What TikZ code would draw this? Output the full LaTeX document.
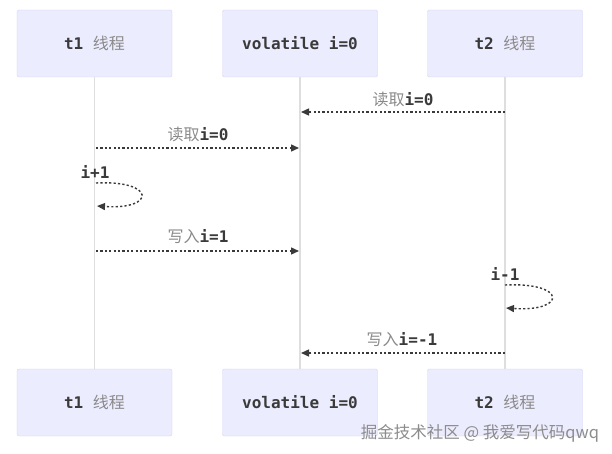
\documentclass[tikz,border=0pt]{standalone}
\usepackage{fontspec}
\setmonofont{DejaVu Sans Mono}
\newfontfamily\cjk{Noto Sans CJK SC}
\usetikzlibrary{arrows.meta}
\definecolor{actorfill}{HTML}{ECECFF}
\definecolor{actorline}{HTML}{D3D3F3}
\definecolor{lifegray}{HTML}{DEDEDE}
\definecolor{msgdark}{HTML}{3A3A3A}
\definecolor{cjkgray}{HTML}{8A8A8A}
\newcommand{\zh}[1]{{\cjk\mdseries\color{cjkgray}#1}}

\begin{document}
\begin{tikzpicture}[
                x=1pt, y=-1pt,
                actor/.style={draw=actorline, fill=actorfill, rounded corners=2pt, minimum width=155pt, minimum height=67pt, font=\ttfamily\bfseries\fontsize{16}{19}\selectfont, text=msgdark},
                life/.style={lifegray, line width=1.3pt},
                msg/.style={msgdark, line width=1.4pt, dash pattern=on 2.2pt off 2.2pt, -{Triangle[length=8pt,width=7pt]}},
                lbl/.style={font=\ttfamily\bfseries\fontsize{16}{19}\selectfont, text=msgdark, inner sep=0pt}
            ]
                \useasboundingbox (0,0) rectangle (612,454);

                \node[actor] (t1top) at (94.5,43.5) {t1 \zh{线程}};
                \node[actor] (vtop) at (300,43.5) {volatile i=0};
                \node[actor] (t2top) at (505,43.5) {t2 \zh{线程}};
                \node[actor] (t1bot) at (94.5,402.5) {t1 \zh{线程}};
                \node[actor] (vbot) at (300,402.5) {volatile i=0};
                \node[actor] (t2bot) at (505,402.5) {t2 \zh{线程}};

                \draw[life] (t1top) -- (t1bot);
                \draw[life] (vtop) -- (vbot);
                \draw[life] (t2top) -- (t2bot);

                \coordinate (r2a) at (505,112);
                \coordinate (r2b) at (301,112);
                \coordinate (r1a) at (96,148);
                \coordinate (r1b) at (299,148);
                \coordinate (inca) at (96,183);
                \coordinate (incb) at (97,206);
                \coordinate (w1a) at (96,251);
                \coordinate (w1b) at (299,251);
                \coordinate (deca) at (505,285);
                \coordinate (decb) at (506,308);
                \coordinate (w2a) at (505,353);
                \coordinate (w2b) at (301,353);

                \draw[msg] (r2a) -- (r2b);
                \draw[msg] (r1a) -- (r1b);
                \draw[msg] (inca) .. controls (156,180) and (156,210) .. (incb);
                \draw[msg] (w1a) -- (w1b);
                \draw[msg] (deca) .. controls (567,282) and (567,312) .. (decb);
                \draw[msg] (w2a) -- (w2b);

                \node[lbl] (r2l) at (403,99) {\zh{读取}i=0};
                \node[lbl] (r1l) at (198,134) {\zh{读取}i=0};
                \node[lbl] (incl) at (95,172) {i+1};
                \node[lbl] (w1l) at (198,237) {\zh{写入}i=1};
                \node[lbl] (decl) at (505,274) {i-1};
                \node[lbl] (w2l) at (402,340) {\zh{写入}i=-1};

                \node[font=\cjk\fontsize{16.5}{19}\selectfont, text=black!45, inner sep=0pt] (mark) at (480,433) {掘金技术社区 @ 我爱写代码qwq};
            \end{tikzpicture}
\end{document}
